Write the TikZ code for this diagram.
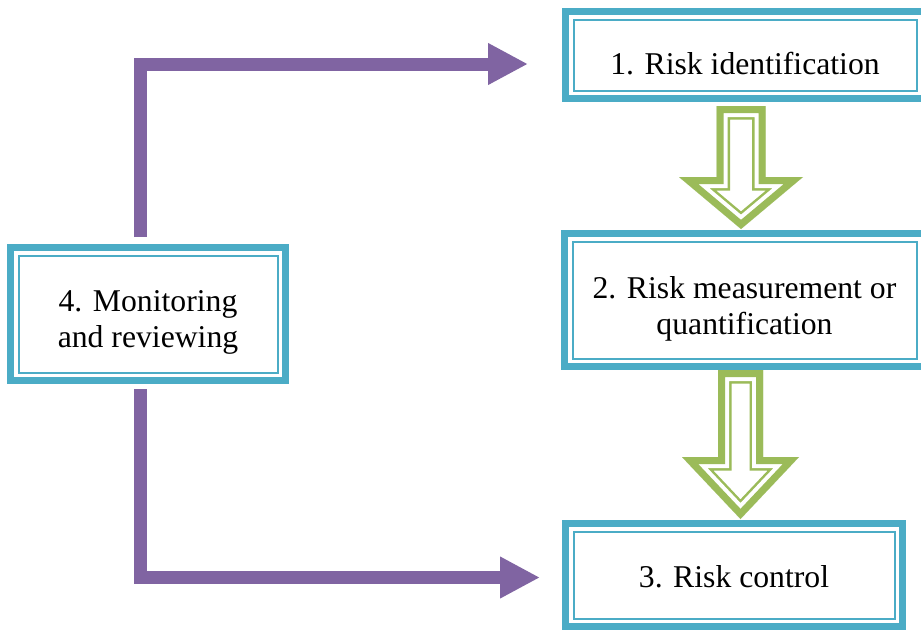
\documentclass[tikz,border=0pt]{standalone}
\usepackage{fontspec}
\setmainfont{Liberation Serif}
\usetikzlibrary{arrows.meta}
\definecolor{boxteal}{HTML}{4BACC6}
\definecolor{leafgreen}{HTML}{9BBB59}
\definecolor{loopviolet}{HTML}{8064A2}

\begin{document}
\begin{tikzpicture}[x=1pt,y=-1pt,
    stagebox/.style={draw=boxteal,line width=7pt,fill=white,inner sep=0pt},
    stagetext/.style={font=\fontsize{31.7}{36}\selectfont,align=center,inner sep=0pt},
    innerframe/.style={draw=boxteal,line width=2pt},
    feedback/.style={draw=loopviolet,line width=13pt,line join=miter,-{Triangle[length=40pt,width=39pt]}}]
    \clip (0,0) rectangle (921,630);
    \fill[white] (0,0) rectangle (921,630);

    % hollow green arrows between the stages
    \foreach \c/\sh/\hh/\ya/\yb/\yc in {741/24.5/62/106/177/229, 740.5/22.5/58.5/370/457/519}{
        \def\arrowshape{(\c-\sh,\ya) -- (\c+\sh,\ya) -- (\c+\sh,\yb) -- (\c+\hh,\yb) -- (\c,\yc) -- (\c-\hh,\yb) -- (\c-\sh,\yb) -- cycle}
        \begin{scope}
            \clip \arrowshape;
            \draw[leafgreen,line width=27pt,line join=miter] \arrowshape;
            \draw[white,line width=22pt,line join=miter] \arrowshape;
            \draw[leafgreen,line width=14pt,line join=miter] \arrowshape;
        \end{scope}
    }

    \node[stagebox,minimum width=359pt,minimum height=87pt,
        label={[stagetext,name=identtext,yshift=-9pt]center:1. Risk identification}] (ident) at (745,55) {};
    \node[stagebox,minimum width=360pt,minimum height=133pt,
        label={[stagetext,name=meastext,yshift=-9pt]center:2. Risk measurement or\\quantification}] (meas) at (744.5,300) {};
    \node[stagebox,minimum width=337pt,minimum height=103pt,
        label={[stagetext,name=ctrltext,yshift=-2pt]center:3. Risk control}] (ctrl) at (734,575) {};
    \node[stagebox,minimum width=275pt,minimum height=133pt,
        label={[stagetext,name=monittext,yshift=-8pt]center:4. Monitoring\\and reviewing}] (monit) at (148,314) {};

    \foreach \b in {ident,meas,ctrl,monit}
        \draw[innerframe] ([shift={(11.5pt,-11.5pt)}]\b.north west) rectangle ([shift={(-11.5pt,11.5pt)}]\b.south east);

    \draw[feedback] ([xshift=-7.5pt,yshift=7pt]monit.north) |- ([xshift=-34pt,yshift=-9pt]ident.west);
    \draw[feedback] ([xshift=-7.5pt,yshift=-5pt]monit.south) |- ([xshift=-22pt,yshift=-2.5pt]ctrl.west);
\end{tikzpicture}
\end{document}
